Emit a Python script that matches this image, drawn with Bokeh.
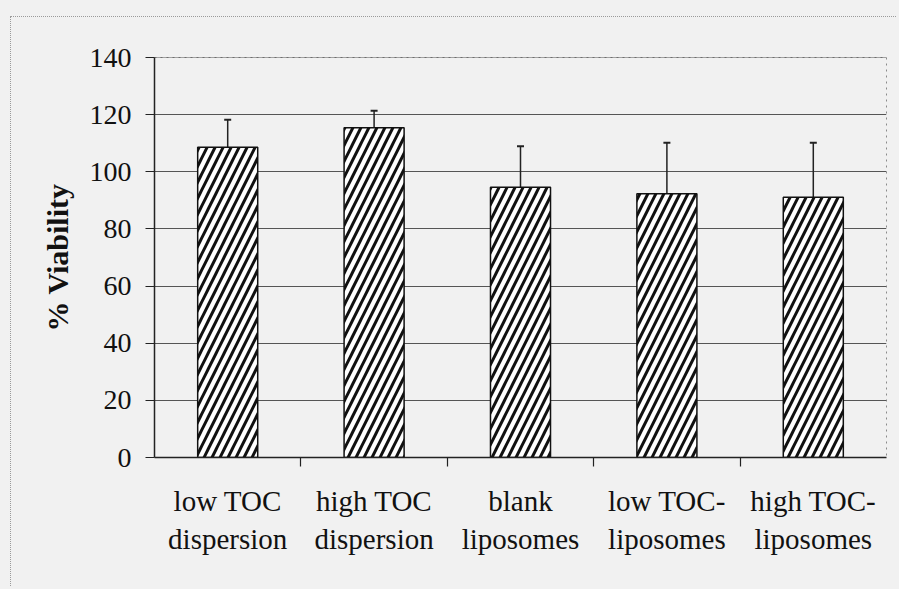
from bokeh.plotting import figure
from bokeh.models import (FactorRange, Range1d, LinearAxis, CategoricalAxis, FixedTicker,
                          ColumnDataSource, Whisker, TeeHead, Span)
from bokeh.embed import file_html
from bokeh.resources import INLINE

categories = ["low TOC\ndispersion", "high TOC\ndispersion", "blank\nliposomes",
              "low TOC-\nliposomes", "high TOC-\nliposomes"]
viability = [108.6, 115.4, 94.6, 92.3, 91.1]
error_up = [9.6, 6.0, 14.3, 17.9, 19.1]
y_ticks = [0, 20, 40, 60, 80, 100, 120, 140]
boundary_names = ["b0", "b1", "b2", "b3", "b4", "b5"]

BG = "#f1f1f1"
FONT = "'Liberation Serif', serif"

src = ColumnDataSource(dict(
    x=categories,
    top=viability,
    upper=[v + e for v, e in zip(viability, error_up)],
))

p = figure(
    x_range=FactorRange(factors=categories, range_padding=0),
    y_range=Range1d(0, 140),
    width=886, height=570,
    output_backend="svg", toolbar_location=None,
    x_axis_location=None, y_axis_location=None,
    min_border_left=143, min_border_right=11, min_border_top=40, min_border_bottom=130,
    background_fill_color=BG, border_fill_color=BG,
)
p.styles = {"border-left": "1px dotted #9a9a9a", "border-top": "1px dotted #9a9a9a"}
p.margin = (16, 0, 0, 10)

p.outline_line_color = "#8a8a8a"
p.outline_line_dash = "dotted"

# y axis
yax = LinearAxis(ticker=FixedTicker(ticks=y_ticks))
yax.axis_label = "% Viability"
yax.axis_label_text_font = FONT
yax.axis_label_text_font_style = "bold"
yax.axis_label_text_font_size = "30px"
yax.axis_label_text_color = "#111111"
yax.axis_label_standoff = 13
yax.major_label_text_font = FONT
yax.major_label_text_font_size = "28px"
yax.major_label_text_color = "#111111"
yax.major_label_standoff = 14
yax.axis_line_color = "#222222"
yax.axis_line_width = 1.5
yax.major_tick_line_color = "#222222"
yax.major_tick_line_width = 1.2
yax.major_tick_out = 9
yax.major_tick_in = 0
yax.minor_tick_line_color = None
p.add_layout(yax, "left")

# x axis: boundary ticks between categories (factor centres mapped onto slot edges)
p.extra_x_ranges = {"b": FactorRange(factors=boundary_names, range_padding=-0.5,
                                     range_padding_units="absolute")}
bax = CategoricalAxis(x_range_name="b")
bax.major_label_text_font_size = "1px"
bax.major_label_text_alpha = 0
bax.major_label_standoff = 0
bax.axis_line_color = "#222222"
bax.axis_line_width = 1.5
bax.major_tick_line_color = "#222222"
bax.major_tick_line_width = 1.2
bax.major_tick_out = 9
bax.major_tick_in = 0
p.add_layout(bax, "below")

# x axis: category labels
cax = CategoricalAxis()
cax.axis_line_color = None
cax.major_tick_line_color = None
cax.major_label_text_font = FONT
cax.major_label_text_font_size = "29px"
cax.major_label_text_color = "#111111"
cax.major_label_standoff = 12
p.add_layout(cax, "below")

p.ygrid.ticker = FixedTicker(ticks=y_ticks)
p.ygrid.grid_line_color = "#555555"
p.ygrid.grid_line_width = 1.2
p.xgrid.grid_line_color = None

p.add_layout(Span(location=140, dimension="width", line_color="#555555", line_width=1.2))

p.vbar(x="x", top="top", width=0.41, source=src,
       fill_color="white", line_color="#111111", line_width=1.5,
       hatch_pattern="/", hatch_color="#111111", hatch_scale=16, hatch_weight=3)

w = Whisker(base="x", lower="top", upper="upper", source=src,
            line_color="#222222", line_width=1.5,
            upper_head=TeeHead(size=7, line_color="#222222", line_width=2),
            lower_head=None)
p.add_layout(w)

html = file_html(p, INLINE)
html = html.replace("</head>", "<style>html, body { background: %s; }</style></head>" % BG, 1)
open("out.html", "w").write(html)
